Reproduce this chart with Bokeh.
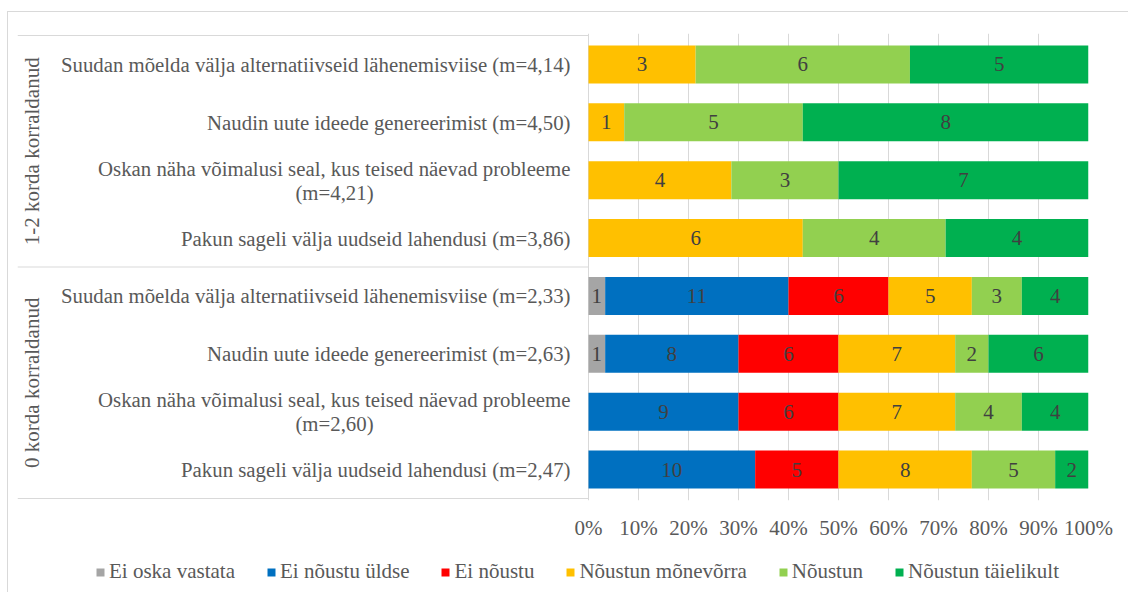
import math
from bokeh.plotting import figure
from bokeh.layouts import column
from bokeh.models import ColumnDataSource, Range1d, FixedTicker, Legend, LegendItem
from bokeh.core.properties import value
from bokeh.embed import file_html
from bokeh.resources import INLINE

# ---------------- data ----------------
groups = ["1-2 korda korraldanud", "0 korda korraldanud"]
statements = [
    "Suudan mõelda välja alternatiivseid lähenemisviise (m=4,14)",
    "Naudin uute ideede genereerimist (m=4,50)",
    "Oskan näha võimalusi seal, kus teised näevad probleeme\n(m=4,21)",
    "Pakun sageli välja uudseid lahendusi (m=3,86)",
    "Suudan mõelda välja alternatiivseid lähenemisviise (m=2,33)",
    "Naudin uute ideede genereerimist (m=2,63)",
    "Oskan näha võimalusi seal, kus teised näevad probleeme\n(m=2,60)",
    "Pakun sageli välja uudseid lahendusi (m=2,47)",
]
responses = ["Ei oska vastata", "Ei nõustu üldse", "Ei nõustu",
             "Nõustun mõnevõrra", "Nõustun", "Nõustun täielikult"]
ei_oska_vastata = [0, 0, 0, 0, 1, 1, 0, 0]
ei_noustu_uldse = [0, 0, 0, 0, 11, 8, 9, 10]
ei_noustu = [0, 0, 0, 0, 6, 6, 6, 5]
noustun_monevorra = [3, 1, 4, 6, 5, 7, 7, 8]
noustun = [6, 5, 3, 4, 3, 2, 4, 5]
noustun_taielikult = [5, 8, 7, 4, 4, 6, 4, 2]
tick_values = [0, 10, 20, 30, 40, 50, 60, 70, 80, 90, 100]
tick_labels = ["0%", "10%", "20%", "30%", "40%", "50%", "60%", "70%", "80%", "90%", "100%"]

colors = ["#A5A5A5", "#0070C0", "#FF0000", "#FFC000", "#92D050", "#00B050"]
FONT = "Liberation Serif"
FS = "21px"
FS_CAT = "20.8px"
TXT = "#595959"

series = [ei_oska_vastata, ei_noustu_uldse, ei_noustu,
          noustun_monevorra, noustun, noustun_taielikult]
n = len(statements)
ys = [n - 1 - i for i in range(n)]
totals = [sum(s[i] for s in series) for i in range(n)]
keys = ["s%d" % k for k in range(len(series))]
data = {"y": ys}
for k, s in zip(keys, series):
    data[k] = [100.0 * s[i] / totals[i] for i in range(n)]
source = ColumnDataSource(data)

# ---------------- main figure ----------------
W = 1120
H_MAIN = 536
H_LEG = 44
px_per_unit = 5.0
x_min = -(588 - 17) / px_per_unit
pad = 2 / 57.875
p = figure(width=W, height=H_MAIN, output_backend="svg", toolbar_location=None,
           x_range=Range1d(x_min, 100), y_range=Range1d(-0.5 - pad, n - 0.5 + pad),
           y_axis_location=None, min_border_left=9, min_border_right=40,
           min_border_top=21, min_border_bottom=48)
p.outline_line_color = None
p.background_fill_color = "white"
p.border_fill_color = "white"

p.xgrid.ticker = FixedTicker(ticks=tick_values)
p.xgrid.grid_line_color = "#D9D9D9"
p.ygrid.grid_line_color = None

ax = p.xaxis[0]
ax.ticker = FixedTicker(ticks=tick_values)
ax.major_label_overrides = {v: l for v, l in zip(tick_values, tick_labels)}
ax.axis_line_color = None
ax.major_tick_line_color = None
ax.minor_tick_line_color = None
ax.major_tick_out = 0
ax.major_tick_in = 0
ax.minor_tick_out = 0
ax.minor_tick_in = 0
ax.major_label_text_font = FONT
ax.major_label_text_font_size = FS
ax.major_label_text_color = TXT
ax.major_label_standoff = 15

p.hbar_stack(keys, y="y", height=0.656, color=colors, source=source, line_color=None)

# value labels in bars
lx, ly, lt = [], [], []
for i in range(n):
    cum = 0.0
    for s in series:
        pct = 100.0 * s[i] / totals[i]
        if s[i] > 0:
            lx.append(cum + pct / 2)
            ly.append(ys[i])
            lt.append(str(s[i]))
        cum += pct
p.text(x=lx, y=ly, text=lt, text_align="center", text_baseline="middle",
       text_font=value(FONT), text_font_size=FS, text_color="#404040")

# category separators
sep_y = [n - 0.5, n / 2 - 0.5, -0.5]
p.segment(x0=[x_min] * 3, y0=sep_y, x1=[0] * 3, y1=sep_y,
          line_color="#D9D9D9", line_width=1)

# category labels
label_x = (570 - 588) / px_per_unit
center2_x = (334 - 588) / px_per_unit
line_off = 12 / 57.875
s1x, s1y, s1t = [], [], []
s2x, s2y, s2t = [], [], []
for i, st in enumerate(statements):
    parts = st.split("\n")
    if len(parts) == 1:
        s1x.append(label_x); s1y.append(ys[i]); s1t.append(parts[0])
    else:
        s1x.append(label_x); s1y.append(ys[i] + line_off); s1t.append(parts[0])
        s2x.append(center2_x); s2y.append(ys[i] - line_off); s2t.append(parts[1])
p.text(x=s1x, y=s1y, text=s1t, text_align="right", text_baseline="middle",
       text_font=value(FONT), text_font_size=FS_CAT, text_color=TXT)
p.text(x=s2x, y=s2y, text=s2t, text_align="center", text_baseline="middle",
       text_font=value(FONT), text_font_size=FS_CAT, text_color=TXT)

# group labels (rotated)
gx = (31 - 588) / px_per_unit
gy = [n - 1 - (n / 4 - 0.5), n / 4 - 0.5]
p.text(x=[gx, gx], y=gy, text=groups, angle=math.pi / 2, text_align="center",
       text_baseline="middle", text_font=value(FONT), text_font_size=FS,
       text_color=TXT)

# ---------------- legend strip ----------------
lf = figure(width=W, height=H_LEG, output_backend="svg", toolbar_location=None,
            x_range=Range1d(200, 300), y_range=Range1d(100, 200),
            x_axis_location=None, y_axis_location=None,
            min_border_left=0, min_border_right=0, min_border_top=0, min_border_bottom=0)
lf.outline_line_color = None
lf.xgrid.visible = False
lf.ygrid.visible = False
leg_renderers = lf.hbar_stack(keys, y="y", height=0.656, color=colors, source=source,
                              line_color=None)
items = [LegendItem(label=r, renderers=[rr]) for r, rr in zip(responses, leg_renderers)]
legend = Legend(items=items, orientation="horizontal", location=(78, 8),
                glyph_width=10, glyph_height=10, label_height=24,
                label_standoff=4, spacing=31, padding=0, margin=0,
                border_line_color=None, background_fill_alpha=0,
                label_text_font=FONT, label_text_font_size=FS,
                label_text_color=TXT)
lf.add_layout(legend, "center")

layout = column(p, lf, spacing=0)
layout.styles = {"border-top": "1px solid #D9D9D9", "border-left": "1px solid #D9D9D9",
                 "margin-top": "11px", "margin-left": "7px"}

open("out.html", "w").write(file_html(layout, INLINE))
